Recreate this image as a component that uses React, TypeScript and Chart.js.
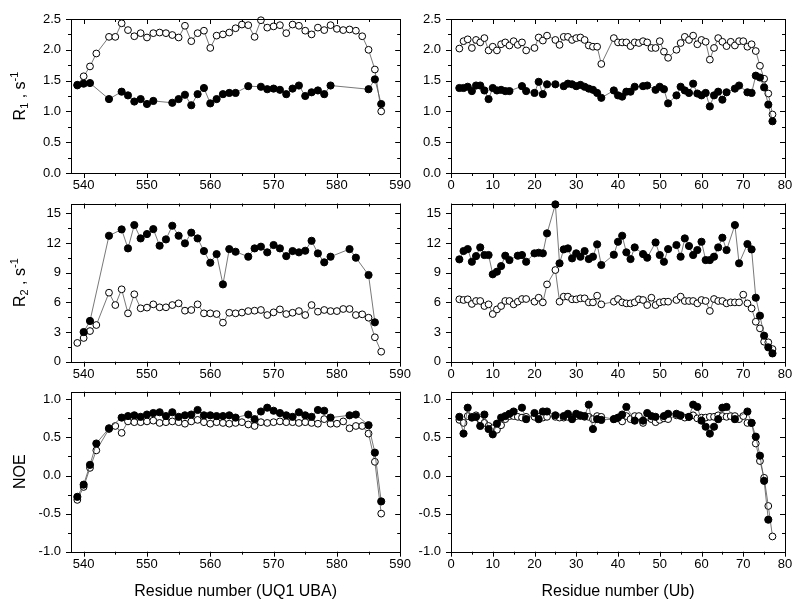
import React, { useEffect, useRef } from "react";
import { Chart, registerables } from "chart.js";

Chart.register(...registerables);

const FONT = "'Liberation Sans', Arial, Helvetica, sans-serif";

type Val = number | null;

// ---------- UQ1 UBA (left column) ----------
const UBA_RESIDUES = [
  539, 540, 541, 542, 543, 544, 545, 546, 547, 548, 549, 550, 551, 552, 553, 554, 555, 556, 557, 558,
  559, 560, 561, 562, 563, 564, 565, 566, 567, 568, 569, 570, 571, 572, 573, 574, 575, 576, 577, 578,
  579, 580, 581, 582, 583, 584, 585, 586, 587,
];
const UBA_R1_FILLED: Val[] = [
  1.43, 1.45, 1.46, null, null, 1.2, null, 1.32, 1.26, 1.16, 1.2, 1.12, 1.17, null, null, 1.14, 1.2, 1.27,
  1.1, 1.28, 1.38, 1.13, 1.2, 1.28, 1.3, 1.3, null, 1.41, null, 1.4, 1.36, 1.37, 1.35, 1.28, 1.37, 1.42,
  1.25, 1.31, 1.34, 1.28, 1.42, null, null, null, null, null, 1.36, 1.52, 1.12,
];
const UBA_R1_OPEN: Val[] = [
  1.42, 1.57, 1.73, 1.94, null, 2.21, 2.21, 2.43, 2.32, 2.22, 2.27, 2.2, 2.27, 2.28, 2.27, 2.24, 2.2, 2.39,
  2.14, 2.27, 2.31, 2.03, 2.23, 2.25, 2.28, 2.35, 2.41, 2.4, 2.21, 2.48, 2.36, 2.38, 2.4, 2.27, 2.41, 2.39,
  2.31, 2.25, 2.36, 2.32, 2.4, 2.34, 2.32, 2.33, 2.31, 2.22, 2.0, 1.68, 1.0,
];
const UBA_R2_FILLED: Val[] = [
  null, 3.0, 4.12, null, null, 12.74, null, 13.38, 11.46, 13.82, 12.47, 12.91, 13.41, 11.73, 12.37, 13.75,
  12.74, 11.97, 13.05, 12.47, 11.19, 10.01, 10.88, 7.82, 11.39, 11.12, null, 10.62, 11.46, 11.63, 11.06,
  11.8, 11.46, 10.68, 11.19, 11.06, 11.22, 12.23, 10.95, 10.05, 10.62, null, null, 11.39, 10.52, null, 8.77,
  3.98, null,
];
const UBA_R2_OPEN: Val[] = [
  1.9, 2.4, 3.1, 3.71, null, 6.98, 5.73, 7.32, 4.89, 6.82, 5.4, 5.47, 5.8, 5.5, 5.5, 5.73, 5.9, 5.16, 5.23,
  5.8, 4.89, 4.89, 4.82, 3.95, 4.95, 4.89, 4.97, 5.12, 5.16, 5.23, 4.72, 4.99, 5.29, 4.82, 4.95, 5.12, 4.72,
  5.73, 5.06, 5.23, 5.12, 5.12, 5.33, 5.33, 4.72, 4.79, 4.45, 2.47, 1.01,
];
const UBA_NOE_FILLED: Val[] = [
  -0.28, -0.12, 0.14, 0.42, null, 0.62, null, 0.76, 0.78, 0.79, 0.77, 0.8, 0.82, 0.83, 0.78, 0.83, 0.77,
  0.79, 0.8, 0.86, 0.79, 0.79, 0.78, 0.78, 0.79, 0.76, null, 0.8, 0.74, 0.84, 0.89, 0.85, 0.82, 0.79, 0.77,
  0.83, 0.79, 0.77, 0.86, 0.85, 0.76, null, null, 0.79, 0.8, null, 0.66, 0.3, -0.34,
];
const UBA_NOE_OPEN: Val[] = [
  -0.32, -0.15, 0.1, 0.33, null, 0.61, 0.65, 0.56, 0.71, 0.7, 0.7, 0.71, 0.72, 0.69, 0.7, 0.71, 0.7, 0.68,
  0.71, 0.73, 0.7, 0.68, 0.7, 0.69, 0.68, 0.69, 0.7, 0.67, 0.65, 0.7, 0.69, 0.7, 0.71, 0.7, 0.7, 0.69, 0.7,
  0.69, 0.68, 0.74, 0.68, 0.68, 0.71, 0.62, 0.65, 0.65, 0.55, 0.18, -0.5,
];

// ---------- Ub (right column) ----------
const UB_RESIDUES = [
  2, 3, 4, 5, 6, 7, 8, 9, 10, 11, 12, 13, 14, 15, 16, 17, 18, 19, 20, 21, 22, 23, 24, 25, 26, 27, 28, 29,
  30, 31, 32, 33, 34, 35, 36, 37, 38, 39, 40, 41, 42, 43, 44, 45, 46, 47, 48, 49, 50, 51, 52, 53, 54, 55,
  56, 57, 58, 59, 60, 61, 62, 63, 64, 65, 66, 67, 68, 69, 70, 71, 72, 73, 74, 75, 76, 77,
];
const UB_R1_FILLED: Val[] = [
  1.38, 1.38, 1.4, 1.33, 1.42, 1.42, 1.34, 1.2, 1.38, 1.34, 1.35, 1.33, 1.33, null, null, 1.41, 1.33, null,
  1.3, 1.48, 1.28, 1.44, null, 1.44, null, 1.41, 1.45, 1.44, 1.41, 1.43, 1.4, 1.37, 1.35, 1.3, 1.22, null,
  null, 1.34, 1.26, 1.24, 1.32, 1.32, 1.4, null, 1.41, 1.42, null, 1.35, 1.4, 1.36, 1.13, null, 1.26, 1.4,
  1.34, 1.3, 1.45, 1.29, 1.26, 1.3, 1.08, 1.26, 1.32, 1.19, 1.31, null, 1.37, 1.42, null, 1.31, 1.3, 1.58,
  1.55, 1.39, 1.11, 0.84,
];
const UB_R1_OPEN: Val[] = [
  2.02, 2.14, 2.17, 2.03, 2.16, 2.12, 2.19, 1.99, 2.05, 1.99, 2.09, 2.12, 2.07, 2.14, 2.08, 2.12, 1.99, null,
  2.03, 2.2, 2.15, 2.23, null, 2.16, 2.08, 2.21, 2.21, 2.16, 2.19, 2.2, 2.16, 2.07, 2.05, 2.05, 1.77, null,
  null, 2.19, 2.12, 2.12, 2.12, 2.06, 2.12, 2.11, 2.14, 2.12, 2.03, 2.03, 2.14, 1.97, 1.87, null, 2.0, 2.11,
  2.21, 2.16, 2.23, 2.09, 2.16, 2.13, 1.84, 2.03, 2.19, 2.13, 2.06, 2.13, 2.07, 2.14, 2.14, 2.05, 2.09, 1.98,
  1.74, 1.53, 1.29, 0.95,
];
const UB_R2_FILLED: Val[] = [
  10.35, 11.19, 11.39, 10.11, 10.68, 11.56, 10.79, 10.79, 8.84, 9.1, 9.67, 10.72, 10.28, null, 10.72, 10.79,
  10.11, null, 10.96, 11.02, 10.96, 12.98, null, 15.91, 9.95, 11.36, 11.46, 10.45, 10.96, 10.62, 11.19,
  10.38, 10.62, 11.87, 9.78, null, null, 10.82, 12.13, 12.74, 11.06, 10.38, 11.56, null, 10.89, 10.52, null,
  12.06, 10.79, 10.11, 11.39, null, 11.8, 10.62, 12.47, 11.7, 10.79, 11.29, 12.13, 10.28, 10.28, 10.62,
  11.56, 12.54, 11.29, null, 13.82, 9.95, null, 11.9, 11.36, 6.47, 4.65, 2.63, 1.45, 0.84,
];
const UB_R2_OPEN: Val[] = [
  6.31, 6.24, 6.31, 5.84, 6.14, 6.14, 5.63, 5.8, 4.82, 5.29, 5.63, 6.14, 6.14, 5.8, 6.07, 6.34, 6.34, null,
  6.07, 6.47, 6.0, 7.82, null, 9.27, 6.07, 6.58, 6.58, 6.31, 6.31, 6.41, 6.41, 6.0, 6.0, 6.68, 5.8, null,
  null, 6.07, 6.34, 6.0, 5.9, 5.9, 6.0, 6.31, 6.24, 5.73, 6.47, 5.73, 6.0, 6.07, 6.07, null, 6.24, 6.58,
  6.14, 6.14, 6.14, 5.9, 6.24, 6.14, 5.13, 6.34, 6.14, 6.14, 5.9, 6.0, 6.0, 6.0, 6.78, 5.9, 5.39, 4.04,
  3.37, 2.02, 1.96, 1.28,
];
const UB_NOE_FILLED: Val[] = [
  0.77, 0.55, 0.89, 0.76, 0.77, 0.65, 0.8, 0.61, 0.54, 0.68, 0.76, 0.78, 0.81, 0.84, null, 0.89, 0.74, null,
  0.82, 0.74, 0.84, 0.84, null, 0.79, null, 0.78, 0.81, 0.74, 0.81, 0.79, 0.78, 0.93, 0.61, 0.74, 0.73, null,
  null, 0.74, 0.76, 0.8, 0.9, null, 0.72, null, 0.72, 0.82, 0.78, 0.77, null, 0.78, 0.81, null, 0.81, 0.79,
  null, 0.77, 0.93, 0.9, 0.72, 0.64, 0.55, 0.64, 0.74, 0.89, 0.9, null, 0.74, null, null, 0.84, 0.69, 0.51,
  0.26, -0.07, -0.58, null,
];
const UB_NOE_OPEN: Val[] = [
  0.73, 0.69, 0.78, 0.77, 0.79, 0.73, 0.69, 0.65, 0.62, 0.6, 0.66, 0.74, 0.78, 0.78, 0.77, 0.76, 0.77, null,
  0.77, 0.77, 0.76, 0.77, null, 0.77, 0.76, 0.76, 0.77, 0.76, 0.78, 0.78, 0.77, 0.77, 0.74, 0.78, 0.77, null,
  null, 0.74, 0.75, 0.71, 0.78, 0.74, 0.78, 0.78, 0.69, 0.77, 0.74, 0.7, 0.73, 0.75, 0.74, null, 0.79, 0.78,
  0.76, 0.77, 0.79, 0.75, 0.76, 0.76, 0.77, 0.77, 0.79, 0.78, 0.77, 0.78, 0.78, 0.74, 0.78, 0.69, 0.69, 0.42,
  0.19, -0.03, -0.4, -0.8,
];

// ---------- axis text ----------
// y titles as runs: [text, kind] where kind is "n" normal, "sub" subscript, "sup" superscript
type Run = [string, "n" | "sub" | "sup"];
const Y_TITLES: Run[][] = [
  [["R", "n"], ["1", "sub"], [" , s", "n"], ["-1", "sup"]],
  [["R", "n"], ["2", "sub"], [" , s", "n"], ["-1", "sup"]],
  [["NOE", "n"]],
];
const X_TITLES = ["Residue number (UQ1 UBA)", "Residue number (Ub)"];

type PanelSpec = {
  residues: number[];
  filled: Val[];
  open: Val[];
  xMin: number;
  xMax: number;
  xMajor: number;
  xMinor: number;
  yMin: number;
  yMax: number;
  yMajor: number;
  yMinor: number;
  yDecimals: number;
  yTitle?: Run[];
  xTitle?: string;
  left: number;
  top: number;
  width: number;
  height: number;
  yWidth: number;
  xHeight: number;
  padTop: number;
  padRight: number;
};

const isMult = (v: number, step: number) => Math.abs(v / step - Math.round(v / step)) < 1e-6;

function majorTicks(min: number, max: number, step: number) {
  const out: { value: number }[] = [];
  const start = Math.ceil(min / step - 1e-9) * step;
  for (let v = start; v <= max + 1e-9; v += step) {
    out.push({ value: Math.round(v * 1e6) / 1e6 });
  }
  return out;
}

const frameTicksPlugin = {
  id: "frameTicks",
  afterDatasetsDraw(chart: any, _args: any, o: any) {
    const { ctx, chartArea: a, scales } = chart;
    const x = scales.x;
    const y = scales.y;
    ctx.save();
    ctx.strokeStyle = "#000";
    ctx.lineWidth = 1;
    ctx.beginPath();
    const xs = Math.ceil(x.min / o.xMinor - 1e-9) * o.xMinor;
    for (let v = xs; v <= x.max + 1e-9; v += o.xMinor) {
      const px = Math.round(x.getPixelForValue(v)) + 0.5;
      const len = isMult(v, o.xMajor) ? 5 : 3;
      ctx.moveTo(px, a.bottom);
      ctx.lineTo(px, a.bottom + len);
      ctx.moveTo(px, a.top);
      ctx.lineTo(px, a.top + len);
    }
    const ys = Math.ceil(y.min / o.yMinor - 1e-9) * o.yMinor;
    for (let v = ys; v <= y.max + 1e-9; v += o.yMinor) {
      const py = Math.round(y.getPixelForValue(v)) + 0.5;
      const len = isMult(v, o.yMajor) ? 5 : 3;
      ctx.moveTo(a.left, py);
      ctx.lineTo(a.left - len, py);
      ctx.moveTo(a.right, py);
      ctx.lineTo(a.right - len, py);
    }
    ctx.stroke();
    ctx.strokeRect(
      Math.round(a.left) + 0.5,
      Math.round(a.top) + 0.5,
      Math.round(a.right) - Math.round(a.left),
      Math.round(a.bottom) - Math.round(a.top)
    );

    // rotated y-axis title with sub/superscripts
    const runs: Run[] | undefined = o.yTitle;
    if (runs && runs.length) {
      const big = 16;
      const small = 11;
      const fontFor = (k: string) => `${k === "n" ? big : small}px ${FONT}`;
      let total = 0;
      const widths = runs.map(([t, k]) => {
        ctx.font = fontFor(k);
        const w = ctx.measureText(t).width;
        total += w;
        return w;
      });
      const cx = y.left + 14;
      const cy = (a.top + a.bottom) / 2;
      ctx.translate(cx, cy);
      ctx.rotate(-Math.PI / 2);
      ctx.fillStyle = "#000";
      ctx.textBaseline = "alphabetic";
      ctx.textAlign = "left";
      let xx = -total / 2;
      runs.forEach(([t, k], i) => {
        ctx.font = fontFor(k);
        const dy = k === "sub" ? 9 : k === "sup" ? -1 : 6;
        ctx.fillText(t, xx, dy);
        xx += widths[i];
      });
    }
    ctx.restore();
  },
};

function toPoints(residues: number[], vals: Val[]) {
  return residues
    .map((r, i) => ({ x: r, y: vals[i] }))
    .filter((p) => p.y !== null) as { x: number; y: number }[];
}

function Panel({ spec }: { spec: PanelSpec }) {
  const ref = useRef<HTMLCanvasElement | null>(null);
  useEffect(() => {
    if (!ref.current) return;
    const s = spec;
    const chart = new Chart(ref.current, {
      type: "line",
      data: {
        datasets: [
          {
            data: toPoints(s.residues, s.filled),
            borderColor: "#555",
            borderWidth: 0.8,
            pointRadius: 3.6,
            pointBorderWidth: 1,
            pointBackgroundColor: "#000",
            pointBorderColor: "#000",
            tension: 0,
            clip: false,
          } as any,
          {
            data: toPoints(s.residues, s.open),
            borderColor: "#555",
            borderWidth: 0.8,
            pointRadius: 3.4,
            pointBorderWidth: 1,
            pointBackgroundColor: "#fff",
            pointBorderColor: "#000",
            tension: 0,
            clip: false,
          } as any,
        ],
      },
      options: {
        animation: false,
        responsive: false,
        devicePixelRatio: 1,
        events: [],
        layout: {
          autoPadding: false,
          padding: { left: 0, top: s.padTop, right: s.padRight, bottom: 0 },
        },
        plugins: {
          legend: { display: false },
          tooltip: { enabled: false },
          frameTicks: {
            xMajor: s.xMajor,
            xMinor: s.xMinor,
            yMajor: s.yMajor,
            yMinor: s.yMinor,
            yTitle: s.yTitle,
          },
        } as any,
        scales: {
          x: {
            type: "linear",
            min: s.xMin,
            max: s.xMax,
            grid: { display: false, drawTicks: false },
            border: { display: false },
            afterBuildTicks: (sc: any) => {
              sc.ticks = majorTicks(s.xMin, s.xMax, s.xMajor);
            },
            ticks: {
              autoSkip: false,
              maxRotation: 0,
              padding: 5,
              color: "#000",
              font: { family: FONT, size: 13 },
              callback: (v: any) => String(Math.round(Number(v))),
            },
            title: {
              display: !!s.xTitle,
              text: s.xTitle || "",
              color: "#000",
              font: { family: FONT, size: 16 },
              padding: { top: 4, bottom: 4 },
            },
            afterFit: (sc: any) => {
              sc.height = s.xHeight;
              sc.paddingLeft = 0;
              sc.paddingRight = 0;
            },
          },
          y: {
            type: "linear",
            min: s.yMin,
            max: s.yMax,
            grid: { display: false, drawTicks: false },
            border: { display: false },
            afterBuildTicks: (sc: any) => {
              sc.ticks = majorTicks(s.yMin, s.yMax, s.yMajor);
            },
            ticks: {
              autoSkip: false,
              padding: 10,
              color: "#000",
              font: { family: FONT, size: 13 },
              callback: (v: any) => Number(v).toFixed(s.yDecimals),
            },
            title: { display: false },
            afterFit: (sc: any) => {
              sc.width = s.yWidth;
              sc.paddingTop = 0;
              sc.paddingBottom = 0;
            },
          },
        } as any,
      },
      plugins: [frameTicksPlugin as any],
    });
    return () => chart.destroy();
  }, [spec]);
  return (
    <canvas
      ref={ref}
      width={spec.width}
      height={spec.height}
      style={{
        position: "absolute",
        left: spec.left,
        top: spec.top,
        width: spec.width,
        height: spec.height,
      }}
    />
  );
}

// column / row geometry (page pixels)
const COLS = [
  { left: 5, width: 410, yWidth: 66, padRight: 14.8, xMin: 538, xMax: 590 },
  { left: 415, width: 385, yWidth: 36, padRight: 15, xMin: 0, xMax: 80 },
];
const ROWS = [
  { top: 0, height: 195, padTop: 19, xHeight: 22, yMin: 0, yMax: 2.5, yMajor: 0.5, yMinor: 0.25, yDecimals: 1 },
  { top: 195, height: 190, padTop: 8.5, xHeight: 23.3, yMin: 0, yMax: 16, yMajor: 3, yMinor: 1.5, yDecimals: 0 },
  { top: 385, height: 220, padTop: 6.7, xHeight: 53.3, yMin: -1, yMax: 1.1, yMajor: 0.5, yMinor: 0.25, yDecimals: 1 },
];

const SERIES = [
  [
    [UBA_R1_FILLED, UBA_R1_OPEN],
    [UB_R1_FILLED, UB_R1_OPEN],
  ],
  [
    [UBA_R2_FILLED, UBA_R2_OPEN],
    [UB_R2_FILLED, UB_R2_OPEN],
  ],
  [
    [UBA_NOE_FILLED, UBA_NOE_OPEN],
    [UB_NOE_FILLED, UB_NOE_OPEN],
  ],
];

const SPECS: PanelSpec[] = [];
ROWS.forEach((row, ri) => {
  COLS.forEach((col, ci) => {
    SPECS.push({
      residues: ci === 0 ? UBA_RESIDUES : UB_RESIDUES,
      filled: SERIES[ri][ci][0],
      open: SERIES[ri][ci][1],
      xMin: col.xMin,
      xMax: col.xMax,
      xMajor: 10,
      xMinor: 5,
      yMin: row.yMin,
      yMax: row.yMax,
      yMajor: row.yMajor,
      yMinor: row.yMinor,
      yDecimals: row.yDecimals,
      yTitle: ci === 0 ? Y_TITLES[ri] : undefined,
      xTitle: ri === 2 ? X_TITLES[ci] : undefined,
      left: col.left,
      top: row.top,
      width: col.width,
      height: row.height,
      yWidth: col.yWidth,
      xHeight: row.xHeight,
      padTop: row.padTop,
      padRight: col.padRight,
    });
  });
});

export default function App() {
  return (
    <div
      style={{
        position: "absolute",
        left: 0,
        top: 0,
        width: 800,
        height: 605,
        background: "#fff",
        overflow: "hidden",
      }}
    >
      {SPECS.map((s, i) => (
        <Panel key={i} spec={s} />
      ))}
    </div>
  );
}
